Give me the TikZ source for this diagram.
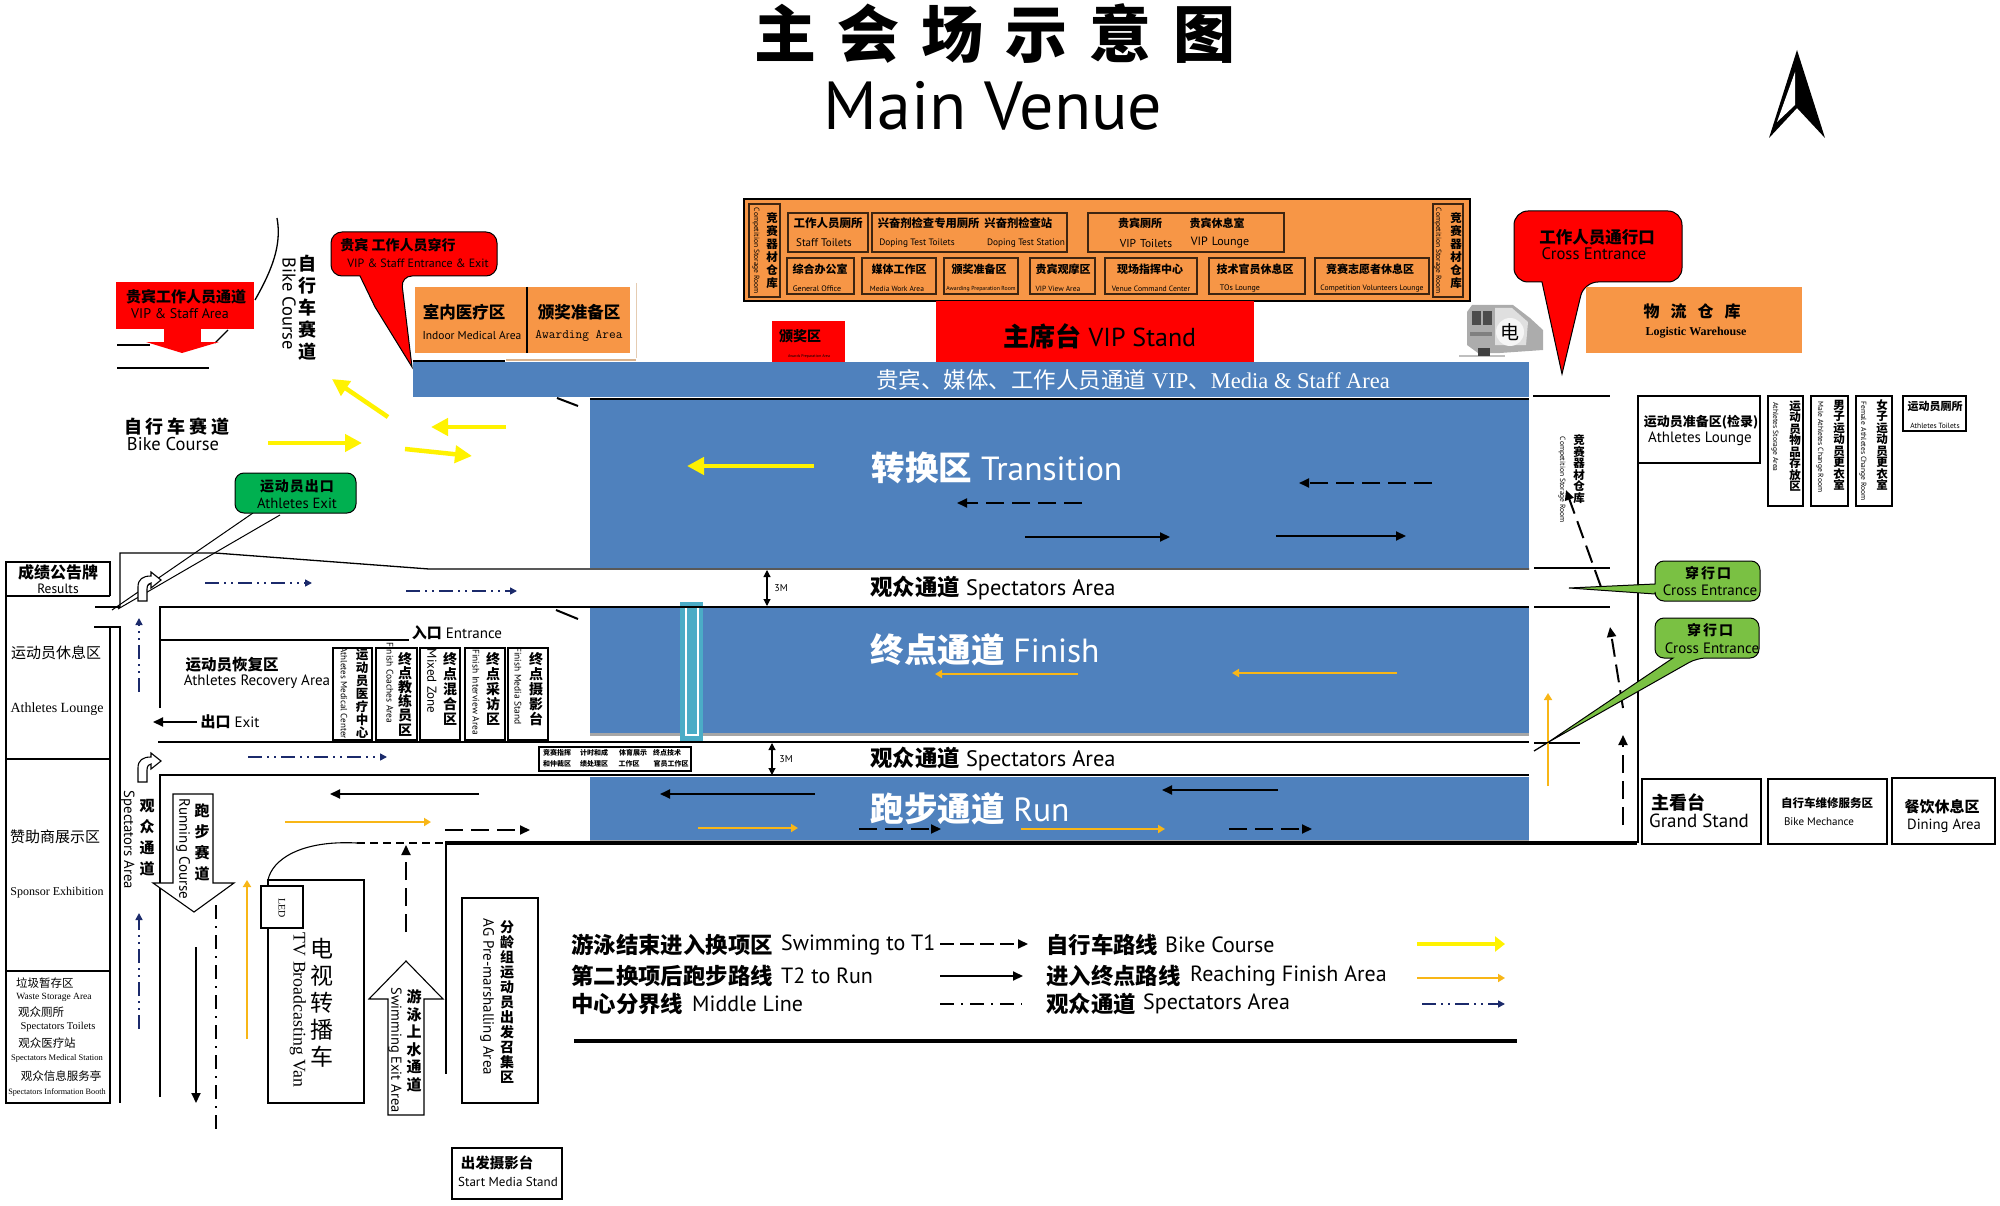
\documentclass[tikz,border=0pt]{standalone}
\usepackage{fontspec}
\setmainfont{PT Sans}
\newfontfamily\cjk{Noto Sans CJK SC}
\newfontfamily\srf{Liberation Serif}
\XeTeXlinebreaklocale "zh"
\usetikzlibrary{arrows.meta}
\definecolor{blueArea}{HTML}{4F81BD}
\definecolor{orangeArea}{HTML}{F79646}
\definecolor{redArea}{HTML}{FF0000}
\definecolor{greenExit}{HTML}{00B050}
\definecolor{greenCross}{HTML}{7AC143}
\definecolor{tealLine}{HTML}{4BACC6}
\definecolor{goldLine}{HTML}{F8B617}
\definecolor{navyLine}{HTML}{1B2A6B}
\newcommand{\zh}[1]{{\cjk\bfseries #1}}
\newcommand{\bendarrow}[1]{\draw[thinbox, fill=white, shift={(0,#1)}] (138,782) -- (138,768) .. controls (138,760) and (143,757) .. (151,757) -- (151,753) -- (161,761) -- (151,769) -- (151,764) .. controls (149,764) and (147,766) .. (147,770) -- (147,782) -- cycle;}
\tikzset{
x=1pt, y=-1pt, % one unit is one pixel of the plan
cn/.style={font=\cjk\bfseries\fontsize{#1}{#1}\selectfont, inner sep=0pt}, % bold chinese
cnl/.style={font=\cjk\fontsize{#1}{#1}\selectfont, inner sep=0pt}, % light chinese
en/.style={font=\fontsize{#1}{#1}\selectfont, inner sep=0pt}, % sans latin
sf/.style={font=\srf\fontsize{#1}{#1}\selectfont, inner sep=0pt}, % serif latin
ven/.style={en=#1, rotate=-90}, % latin running downwards
vcn/.style 2 args={font=\cjk\bfseries\fontsize{#1}{#2}\selectfont, text width=#1pt+1pt, align=center, inner sep=0pt}, % stacked chinese
thinbox/.style={draw=black, line width=1.1pt},
thickbox/.style={draw=black, line width=2.4pt},
roombox/.style={draw=black!75!orangeArea, line width=1.2pt},
wall/.style={draw=black, line width=1.3pt},
yelarrow/.style={draw=yellow, line width=4.5pt, -{Triangle[length=17pt,width=17pt]}},
goldarrow/.style={draw=goldLine, line width=2pt, -{Triangle[length=7pt,width=8pt]}},
solidarrow/.style={draw=black, line width=2pt, -{Triangle[length=10pt,width=9pt]}},
dasharrow/.style={draw=black, line width=2pt, dash pattern=on 18pt off 8pt, -{Triangle[length=10pt,width=9pt]}},
navyarrow/.style={draw=navyLine, line width=1.6pt, dash pattern=on 14pt off 5pt on 2pt off 5pt on 2pt off 5pt, -{Triangle[length=7pt,width=7pt]}},
midline/.style={draw=black, line width=1.4pt, dash pattern=on 14pt off 7pt on 2pt off 7pt},
}
\begin{document}
\begin{tikzpicture}
\useasboundingbox (0,0) rectangle (2000,1206);
% title and north arrow
\node[cn=62] (titlecn) at (995,34) {主\hspace{22pt}会\hspace{22pt}场\hspace{22pt}示\hspace{22pt}意\hspace{22pt}图};
\node[en=68] (titleen) at (993,106) {Main Venue};
\fill[black] (1797,50) -- (1825,138) -- (1797,108) -- (1769,138) -- cycle;
\fill[white] (1795,72) -- (1795,105) -- (1777,122) -- cycle;

% blue course areas
\fill[blueArea] (413,362) rectangle (1529,397);
\fill[blueArea] (590,399) rectangle (1529,568);
\fill[blueArea] (590,606) rectangle (1529,735);
\fill[blueArea] (590,777) rectangle (1529,842);
\fill[gray!70] (590,733) rectangle (1529,736);
\fill[gray!70] (590,840) rectangle (1529,842);
\fill[tealLine] (680,602) rectangle (703,742);
\draw[white, line width=1.2pt, fill=tealLine] (686,607) rectangle (698,735);

% walls and course edges
\draw[black, line width=2.2pt] (590,399) -- (1529,399);
\draw[wall] (413,361) -- (505,361);
\draw[black, line width=2pt] (557,398) -- (578,406);
\draw[black, line width=2pt] (556,610) -- (578,619);
\draw[wall] (120,607) -- (120,553) -- (215,553) -- (429,569) -- (1529,569);
\draw[wall] (95,607) -- (120,607);
\draw[wall] (94,627) -- (120,627) -- (120,1103);
\draw[wall] (160,708) -- (160,607) -- (1529,607);
\draw[wall] (161,640) -- (409,640);
\draw[wall] (158,742) -- (1529,742);
\draw[wall] (1534,743) -- (1580,743);
\draw[wall] (1534,751) -- (1547,743);
\draw[wall] (160,1097) -- (160,775) -- (1529,775);
\draw[wall] (1533,396) -- (1610,396);
\draw[wall] (1534,568) -- (1610,568);
\draw[wall] (1534,607) -- (1610,607);
\draw[wall] (1638,396) -- (1638,843);
\draw[black, line width=3.4pt] (445,843) -- (1637,843);
\draw[wall] (446,843) -- (446,1074);
\draw[wall] (277,218) .. controls (282,245) and (272,270) .. (255,300);
\draw[wall] (228,330) -- (215,343);
\draw[wall] (117,345) -- (150,345);
\draw[wall] (117,368) -- (209,368);

% left column
\draw[black, line width=2.6pt] (110,596) -- (110,562) -- (6,562) -- (6,1103) -- (110,1103) -- (110,627);
\draw[thinbox] (6,596) -- (110,596);
\draw[thinbox] (6,759) -- (110,759);
\draw[thinbox] (6,971) -- (110,971);
\node[cn=16] (results) at (58,572) {成绩公告牌};
\node[en=13.5] (resultsen) at (58,589) {Results};
\node[cnl=15] (lounge) at (56,653) {运动员休息区};
\node[sf=14] (loungeen) at (57,709) {Athletes Lounge};
\node[cnl=15] (sponsor) at (55,837) {赞助商展示区};
\node[sf=12] (sponsoren) at (57,893) {Sponsor Exhibition};
\node[cnl=11.5] (waste) at (45,983) {垃圾暂存区};
\node[sf=9.5] (wasteen) at (54,997) {Waste Storage Area};
\node[cnl=11.5] (toilets) at (41,1012) {观众厕所};
\node[sf=10.5] (toiletsen) at (58,1027) {Spectators Toilets};
\node[cnl=11.5] (medical) at (47,1043) {观众医疗站};
\node[sf=8.5] (medicalen) at (57,1058) {Spectators Medical Station};
\node[cnl=11.5] (booth) at (61,1076) {观众信息服务亭};
\node[sf=8.2] (boothen) at (57,1092) {Spectators Information Booth};

% building at the top
\draw[black, line width=2.2pt, fill=orangeArea] (744,199) rectangle (1470,301);
\draw[roombox] (749,204) rectangle (780,297);
\draw[roombox] (1433,204) rectangle (1463,297);
\node[vcn={11.5}{13}] (storeacn) at (772,251) {竞赛器材仓库};
\node[ven=7.5] (storeaen) at (756,251) {Competition Storage Room};
\node[vcn={11.5}{13}] (storebcn) at (1456,251) {竞赛器材仓库};
\node[ven=7.5] (storeben) at (1438,251) {Competition Storage Room};
\draw[roombox] (788,213) rectangle (868,252);
\draw[roombox] (872,213) rectangle (1067,252);
\draw[roombox] (1088,213) rectangle (1284,252);
\node[cn=11.5] (stafft) at (828,223) {工作人员厕所};
\node[en=11] (stafften) at (824,243) {Staff Toilets};
\node[cn=11.3] (doping) at (965,223) {兴奋剂检查专用厕所\hspace{5pt}兴奋剂检查站};
\node[en=9.3] (dopingt) at (917,243) {Doping Test Toilets};
\node[en=9.3] (dopings) at (1026,243) {Doping Test Station};
\node[cn=11] (vipt) at (1140,223) {贵宾厕所};
\node[cn=11] (vipl) at (1217,223) {贵宾休息室};
\node[en=11.5] (vipten) at (1146,243) {VIP\hspace{4pt}Toilets};
\node[en=12] (viplen) at (1220,243) {VIP\hspace{4pt}Lounge};
\draw[roombox] (787,258) rectangle (854,294);
\draw[roombox] (862,258) rectangle (936,294);
\draw[roombox] (944,258) rectangle (1018,294);
\draw[roombox] (1030,258) rectangle (1095,294);
\draw[roombox] (1105,258) rectangle (1197,294);
\draw[roombox] (1209,258) rectangle (1305,294);
\draw[roombox] (1315,258) rectangle (1429,294);
\node[cn=11] (office) at (820,269) {综合办公室};
\node[en=8] (officeen) at (817,289) {General Office};
\node[cn=11] (media) at (899,269) {媒体工作区};
\node[en=7.5] (mediaen) at (897,289) {Media Work Area};
\node[cn=11] (awprep) at (979,269) {颁奖准备区};
\node[en=5.8] (awprepen) at (981,289) {Awarding Preparation Room};
\node[cn=11] (view) at (1063,269) {贵宾观摩区};
\node[en=7.5] (viewen) at (1058,289) {VIP View Area};
\node[cn=11] (command) at (1150,269) {现场指挥中心};
\node[en=7.7] (commanden) at (1151,289) {Venue Command Center};
\node[cn=11] (tos) at (1255,269) {技术官员休息区};
\node[en=8] (tosen) at (1240,289) {TOs Lounge};
\node[cn=11] (vol) at (1370,269) {竞赛志愿者休息区};
\node[en=7.7] (volen) at (1372,289) {Competition Volunteers Lounge};

% stands below the building
\fill[redArea] (772,321) rectangle (845,362);
\node[cn=14] (award) at (800,336) {颁奖区};
\node[en=4] (awarden) at (809,356) {Awards Preparation Area};
\fill[redArea] (936,301) rectangle (1254,362);
\node[en=26] (vipstand) at (1100,336) {\zh{主席台} VIP Stand};
\node[font=\fontsize{22.5}{22.5}\selectfont, inner sep=0pt, text=white] (viparea) at (1133,380) {{\cjk 贵宾、媒体、工作人员通道} {\srf VIP{\cjk 、}Media \& Staff Area}};

% medical and awarding rooms
\fill[orangeArea] (415,287) rectangle (630,353);
\draw[black, line width=2.2pt] (527,287) -- (527,353);
\draw[brown!40, line width=1pt] (636,283) -- (636,358);
\draw[brown!60, line width=2pt] (506,360) -- (636,360);
\node[cn=16.5] (indoor) at (464,312) {室内医疗区};
\node[en=11.5] (indooren) at (472,335) {Indoor Medical Area};
\node[cn=16.5] (awarding) at (579,312) {颁奖准备区};
\node[font=\ttfamily\fontsize{13}{13}\selectfont, inner sep=0pt] (awardingen) at (579,336) {Awarding Area};

% red callouts
\draw[black, line width=1pt, fill=redArea, rounded corners=11pt] (331,232) -- (497,232) -- (497,276) -- (401,276) [sharp corners] -- (412,367) -- (375,307) -- (360,276) [rounded corners=11pt] -- (331,276) -- cycle;
\node[cn=14] (vipcross) at (398,245) {贵宾 工作人员穿行};
\node[en=12] (vipcrossen) at (418,263) {VIP \& Staff Entrance \& Exit};
\draw[black, line width=1pt, fill=redArea, rounded corners=14pt] (1514,211) -- (1682,211) -- (1682,282) -- (1584,282) [sharp corners] -- (1562,374) -- (1542,282) [rounded corners=14pt] -- (1514,282) -- cycle;
\node[cn=16.5] (crossred) at (1597,237) {工作人员通行口};
\node[en=16.7] (crossreden) at (1594,254) {Cross Entrance};
\fill[redArea] (116,282) rectangle (254,329);
\fill[redArea] (164,329) rectangle (201,342);
\fill[redArea] (146,342) -- (219,342) -- (182,353) -- cycle;
\node[cn=15] (vipstaff) at (186,297) {贵宾工作人员通道};
\node[en=14] (vipstaffen) at (180,314) {VIP \& Staff Area};

% bike course labels and arrows
\node[vcn={18}{22}] (bikev) at (307,308) {自行车赛道};
\node[ven=18.5] (bikeven) at (289,304) {Bike Course};
\node[cn=18] (bikeh) at (177,427) {自\hspace{4pt}行\hspace{4pt}车\hspace{4pt}赛\hspace{4pt}道};
\node[en=18.5] (bikehen) at (173,444) {Bike Course};
\draw[yelarrow] (388,417) -- (332,379);
\draw[yelarrow] (268,443) -- (362,443);
\draw[yelarrow] (506,427) -- (431,427);
\draw[yelarrow] (405,449) -- (472,456);

% athletes exit callout
\draw[black, line width=1pt] (253,513) -- (112,610);
\draw[black, line width=1pt] (280,515) -- (118,609);
\draw[black, line width=1pt, fill=greenExit, rounded corners=9pt] (235,473) rectangle (356,513);
\node[cn=14] (athexit) at (297,486) {运\hspace{1pt}动\hspace{1pt}员\hspace{1pt}出\hspace{1pt}口};
\node[en=14.7] (athexiten) at (297,503) {Athletes Exit};

% blue course texts
\node[en=33.5] (transition) at (997,468) {\textcolor{white}{\zh{转换区} Transition}};
\node[en=33.5] (finish) at (985,650) {\textcolor{white}{\zh{终点通道} Finish}};
\node[en=33.5] (run) at (970,809) {\textcolor{white}{\zh{跑步通道} Run}};
\node[en=22.4] (specta) at (993,588) {\zh{观众通道} Spectators Area};
\node[en=22.4] (spectb) at (993,759) {\zh{观众通道} Spectators Area};
\draw[black, line width=1.1pt, {Triangle[length=7pt,width=7pt]}-{Triangle[length=7pt,width=7pt]}] (767,570) -- (767,606);
\draw[black, line width=1.1pt, {Triangle[length=7pt,width=7pt]}-{Triangle[length=7pt,width=7pt]}] (772,743) -- (772,775);
\node[en=10] (threea) at (781,588) {3M};
\node[en=10] (threeb) at (786,759) {3M};

% arrows on the course
\draw[yelarrow] (814,466) -- (687,466);
\draw[dasharrow] (1082,503) -- (957,503);
\draw[dasharrow] (1432,483) -- (1299,483);
\draw[solidarrow] (1025,537) -- (1170,537);
\draw[solidarrow] (1276,536) -- (1406,536);
\draw[goldarrow] (1078,674) -- (935,674);
\draw[goldarrow] (1397,673) -- (1232,673);
\draw[solidarrow] (815,794) -- (660,794);
\draw[solidarrow] (1278,790) -- (1162,790);
\draw[goldarrow] (698,828) -- (798,828);
\draw[goldarrow] (1021,829) -- (1165,829);
\draw[dasharrow] (859,829) -- (941,829);
\draw[dasharrow] (1229,829) -- (1312,829);
\draw[solidarrow] (479,794) -- (330,794);
\draw[goldarrow] (285,822) -- (431,822);
\draw[dasharrow] (445,830) -- (530,830);
\draw[goldarrow] (1548,786) -- (1548,693);
\draw[dasharrow] (1601,587) -- (1566,490);
\draw[dasharrow] (1623,708) -- (1610,627);
\draw[dasharrow] (1623,825) -- (1623,735);
\draw[navyarrow] (205,583) -- (312,583);
\draw[navyarrow] (406,591) -- (517,591);
\draw[navyarrow] (248,757) -- (387,757);
\draw[navyarrow] (139,692) -- (139,618);
\draw[navyarrow] (139,1029) -- (139,913);
\draw[solidarrow] (197,722) -- (153,722);
\draw[solidarrow] (196,947) -- (196,1103);
\draw[midline] (216,905) -- (216,1135);
\draw[goldarrow] (247,1039) -- (247,880);
\bendarrow{0}
\bendarrow{-181}

% recovery area rooms
\node[en=15] (entrance) at (457,633) {\zh{入口} Entrance};
\node[cn=15.5] (recovery) at (232,665) {运动员恢复区};
\node[en=15] (recoveryen) at (257,682) {Athletes Recovery Area};
\node[en=15] (exit) at (230,722) {\zh{出口} Exit};
\draw[thinbox] (333,648) rectangle (372,740);
\draw[thinbox] (376,648) rectangle (417,740);
\draw[thinbox] (420,648) rectangle (460,740);
\draw[thinbox] (465,648) rectangle (505,740);
\draw[thinbox] (508,648) rectangle (548,740);
\node[vcn={12.5}{13}] (amc) at (362,694) {运动员医疗中心};
\node[ven=9] (amcen) at (344,693) {Athletes Medical Center};
\node[vcn={14}{14.2}] (fca) at (405,694) {终点教练员区};
\node[ven=9.5] (fcaen) at (390,683) {Finish Coaches Area};
\node[vcn={14}{15}] (mz) at (450,689) {终点混合区};
\node[ven=13] (mzen) at (432,681) {Mixed Zone};
\node[vcn={14}{15}] (fia) at (493,689) {终点采访区};
\node[ven=9.5] (fiaen) at (476,692) {Finish Interview Area};
\node[vcn={14}{15}] (fms) at (536,689) {终点摄影台};
\node[ven=9.5] (fmsen) at (518,686) {Finish Media Stand};
\draw[black, line width=1.3pt] (539,747) rectangle (691,771);
\node[cn=7] (tia) at (557,753) {竞赛指挥};
\node[cn=7] (tib) at (557,764) {和仲裁区};
\node[cn=7] (tic) at (594,753) {计时和成};
\node[cn=7] (tid) at (594,764) {绩处理区};
\node[cn=7] (tie) at (633,753) {体育展示};
\node[cn=7] (tif) at (629,764) {工作区};
\node[cn=7] (tig) at (667,753) {终点技术};
\node[cn=7] (tih) at (671,764) {官员工作区};

% lower left: spectators, running, van, swim exit
\node[vcn={15}{21}] (spectv) at (147,838) {观众通道};
\node[ven=14.7] (spectven) at (128,840) {Spectators Area};
\draw[thinbox, fill=white] (173,794) -- (213,794) -- (213,883) -- (234,883) -- (194,912) -- (153,883) -- (173,883) -- cycle;
\node[vcn={15}{21}] (runv) at (202,842) {跑步赛道};
\node[ven=15] (runven) at (183,849) {Running Course};
\draw[thinbox] (268,880) .. controls (272,860) and (300,840) .. (357,843);
\draw[black, line width=1.4pt, dash pattern=on 8pt off 5pt] (357,843) -- (445,843);
\draw[dasharrow] (406,932) -- (406,845);
\draw[thinbox] (268,880) rectangle (364,1103);
\draw[thinbox, fill=white] (261,886) rectangle (303,928);
\node[font=\srf\fontsize{10}{10}\selectfont, inner sep=0pt, rotate=-90] (led) at (282,908) {LED};
\node[font=\cjk\fontsize{23}{27}\selectfont, text width=24pt, align=center, inner sep=0pt] (tvvan) at (322,1003) {电视转播车};
\node[font=\srf\fontsize{17.8}{17.8}\selectfont, inner sep=0pt, rotate=-90] (tvvanen) at (298,1010) {TV Broadcasting Van};
\draw[thinbox, fill=white] (406,961) -- (443,999) -- (424,999) -- (424,1115) -- (388,1115) -- (388,999) -- (369,999) -- cycle;
\node[vcn={15}{17.5}] (swim) at (414,1041) {游泳上水通道};
\node[ven=14.5] (swimen) at (395,1050) {Swimming Exit Area};
\draw[thickbox] (462,898) rectangle (538,1103);
\node[vcn={14}{15}] (ag) at (507,1002) {分龄组运动员出发召集区};
\node[ven=15] (agen) at (487,997) {AG Pre-marshalling Area};
\draw[thinbox] (452,1148) rectangle (562,1199);
\node[cn=14.5] (startm) at (497,1163) {出发摄影台};
\node[en=13] (startmen) at (508,1182) {Start Media Stand};

% legend
\node[cn=22.4, anchor=west] (lega) at (571,945) {游泳结束进入换项区};
\node[en=22, anchor=west] (legaen) at (781,945) {Swimming to T1};
\node[cn=22.4, anchor=west] (legb) at (571,976) {第二换项后跑步路线};
\node[en=22, anchor=west] (legben) at (781,976) {T2 to Run};
\node[cn=22.4, anchor=west] (legc) at (571,1004) {中心分界线};
\node[en=22, anchor=west] (legcen) at (692,1004) {Middle Line};
\node[cn=22.4, anchor=west] (legd) at (1046,945) {自行车路线};
\node[en=22, anchor=west] (legden) at (1165,945) {Bike Course};
\node[cn=22.4, anchor=west] (lege) at (1046,976) {进入终点路线};
\node[en=22, anchor=west] (legeen) at (1190,976) {Reaching Finish Area};
\node[cn=22.4, anchor=west] (legf) at (1046,1004) {观众通道};
\node[en=22, anchor=west] (legfen) at (1143,1004) {Spectators Area};
\draw[dasharrow, dash pattern=on 14pt off 6pt] (940,944) -- (1028,944);
\draw[solidarrow] (940,976) -- (1023,976);
\draw[midline] (940,1004) -- (1022,1004);
\draw[yelarrow, -{Triangle[length=10pt,width=15pt]}] (1417,944) -- (1505,944);
\draw[goldarrow] (1417,978) -- (1505,978);
\draw[navyarrow] (1422,1004) -- (1505,1004);
\draw[black, line width=4pt] (574,1041) -- (1517,1041);

% right side: van, warehouse, lounge rooms
\fill[orangeArea] (1586,287) rectangle (1802,353);
\node[cn=16] (logist) at (1692,311) {物\hspace{11pt}流\hspace{11pt}仓\hspace{11pt}库};
\node[font=\srf\bfseries\fontsize{12}{12}\selectfont, inner sep=0pt] (logisten) at (1696,333) {Logistic Warehouse};
\fill[gray!50] (1459,355) rectangle (1505,357);
\fill[gray!65] (1467,312) -- (1472,305) -- (1513,305) -- (1530,318) -- (1543,330) -- (1543,350) -- (1500,353) -- (1478,353) -- (1467,345) -- cycle;
\fill[gray!25] (1495,308) -- (1512,308) -- (1528,322) -- (1526,345) -- (1495,345) -- cycle;
\fill[black!70] (1472,311) rectangle (1481,325);
\fill[black!70] (1483,311) rectangle (1492,325);
\fill[black!50] (1470,332) rectangle (1492,336);
\fill[black!75] (1478,348) rectangle (1490,356);
\node[circle, fill=white!92!gray, minimum size=28pt, inner sep=0pt, font=\srf] (vanmark) at (1510,332) {};
\node[font=\cjk\fontsize{19}{19}\selectfont, inner sep=0pt] (vandian) at (1510,332) {电};
\node[vcn={11.5}{11.5}] (storec) at (1579,469) {竞赛器材仓库};
\node[ven=7.5] (storecen) at (1562,480) {Competition Storage Room};
\draw[thinbox] (1638,396) rectangle (1760,463);
\node[cn=13] (prep) at (1701,422) {运动员准备区(检录)};
\node[en=15] (prepen) at (1700,439) {Athletes Lounge};
\draw[thinbox] (1768,396) rectangle (1803,506);
\draw[thinbox] (1811,396) rectangle (1848,506);
\draw[thinbox] (1856,396) rectangle (1892,506);
\draw[thinbox] (1903,396) rectangle (1966,431);
\node[vcn={11.5}{11.5}] (astore) at (1795,446) {运动员物品存放区};
\node[ven=7.5] (astoreen) at (1775,437) {Athletes Storage Area};
\node[vcn={11.5}{11.5}] (male) at (1839,445) {男子运动员更衣室};
\node[ven=7.5] (maleen) at (1820,447) {Male Athletes Change Room};
\node[vcn={11.5}{11.5}] (female) at (1882,445) {女子运动员更衣室};
\node[ven=7.5] (femaleen) at (1863,451) {Female\hspace{3pt}Athletes Change Room};
\node[cn=11] (atoilet) at (1935,406) {运动员厕所};
\node[en=7.5] (atoileten) at (1935,426) {Athletes Toilets};
\draw[black, line width=1pt, fill=greenCross, rounded corners=9pt] (1655,561) -- (1760,561) -- (1760,601) -- (1655,601) [sharp corners] -- (1655,594) -- (1569,588) -- (1655,584) [rounded corners=9pt] -- cycle;
\node[cn=14] (crossa) at (1708,573) {穿\hspace{2pt}行\hspace{2pt}口};
\node[en=15] (crossaen) at (1710,590) {Cross Entrance};
\draw[black, line width=1pt, fill=greenCross, rounded corners=9pt] (1655,618) -- (1759,618) -- (1759,658) -- (1697,658) [sharp corners] -- (1547,743) -- (1673,658) [rounded corners=9pt] -- (1655,658) -- cycle;
\node[cn=14] (crossb) at (1710,630) {穿\hspace{2pt}行\hspace{2pt}口};
\node[en=15] (crossben) at (1712,648) {Cross Entrance};
\draw[thinbox] (1642,779) rectangle (1761,844);
\draw[thinbox] (1768,779) rectangle (1887,844);
\draw[thinbox] (1892,778) rectangle (1995,844);
\node[cn=18] (grand) at (1678,802) {主看台};
\node[en=19] (granden) at (1699,821) {Grand Stand};
\node[cn=11.5] (mech) at (1827,803) {自行车维修服务区};
\node[en=11] (mechen) at (1819,822) {Bike Mechance};
\node[cn=15] (dining) at (1942,807) {餐饮休息区};
\node[en=14.7] (diningen) at (1944,826) {Dining Area};
\end{tikzpicture}
\end{document}
